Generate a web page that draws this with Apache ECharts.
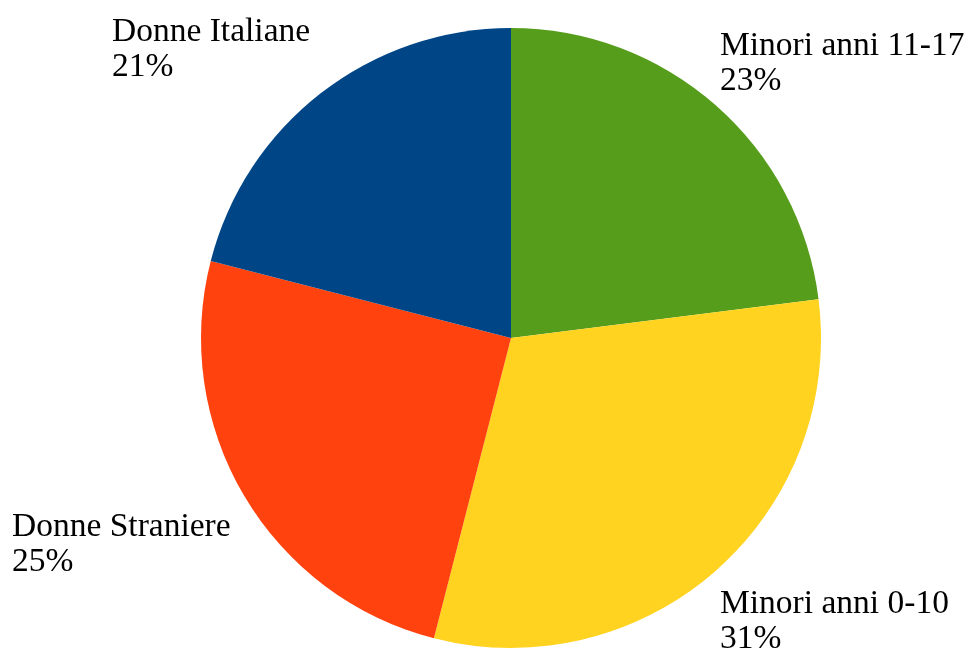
<!DOCTYPE html>
<html>
<head>
<meta charset="utf-8">
<script src="https://cdn.jsdelivr.net/npm/echarts@6/dist/echarts.min.js"></script>
<style>
  html, body { margin: 0; padding: 0; background: #ffffff; }
  #chart { width: 970px; height: 652px; }
</style>
</head>
<body>
<div id="chart"></div>
<script>
// Share of users by group (percent)
const categories = ['Minori anni 11-17', 'Minori anni 0-10', 'Donne Straniere', 'Donne Italiane'];
const values = [23, 31, 25, 21];
const colors = ['#579D1C', '#FFD320', '#FF420E', '#004586'];

// Label anchors (left edge, vertical middle of the two-line block)
const labelSpots = [
  [720, 64],
  [720, 622],
  [12, 545],
  [112, 50]
];

const chart = echarts.init(document.getElementById('chart'), null, { renderer: 'canvas' });

chart.setOption({
  backgroundColor: '#ffffff',
  animation: false,
  series: [{
    type: 'pie',
    center: [511, 338],
    radius: [0, 310],
    startAngle: 90,
    clockwise: true,
    avoidLabelOverlap: false,
    itemStyle: { borderWidth: 0 },
    emphasis: { disabled: true },
    label: {
      show: true,
      position: 'outside',
      formatter: function (p) { return p.name + '\n' + p.value + '%'; },
      fontFamily: '"Liberation Serif", serif',
      fontSize: 33.5,
      lineHeight: 35,
      color: '#000000',
      align: 'left'
    },
    labelLine: { show: false },
    labelLayout: function (params) {
      const s = labelSpots[params.dataIndex];
      return { x: s[0], y: s[1], align: 'left', verticalAlign: 'middle' };
    },
    data: categories.map(function (name, i) {
      return { name: name, value: values[i], itemStyle: { color: colors[i] } };
    })
  }]
});
</script>
</body>
</html>
